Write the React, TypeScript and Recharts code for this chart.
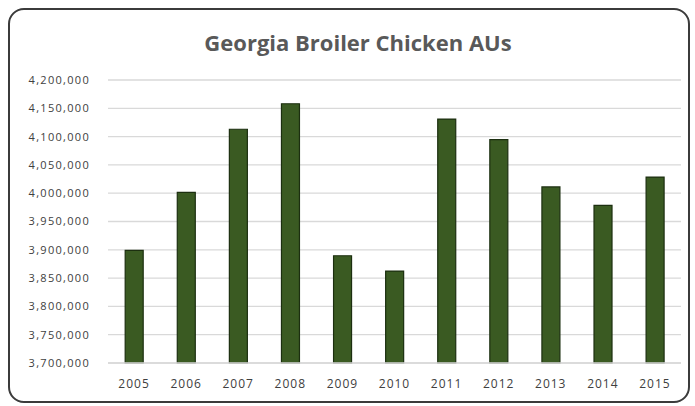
import React from "react";
import { BarChart, Bar, XAxis, YAxis, CartesianGrid } from "recharts";

const years = ["2005", "2006", "2007", "2008", "2009", "2010", "2011", "2012", "2013", "2014", "2015"];
const broilerAUs = [3899000, 4001500, 4113000, 4158000, 3889500, 3862500, 4131000, 4094500, 4011000, 3978500, 4028500];
const yTicks = [3700000, 3750000, 3800000, 3850000, 3900000, 3950000, 4000000, 4050000, 4100000, 4150000, 4200000];
const chartTitle = "Georgia Broiler Chicken AUs";

const data = years.map((year, i) => ({ year, value: broilerAUs[i] }));

const fmt = (v: number) => v.toLocaleString("en-US");

export default function App() {
  return (
    <div style={{ position: "absolute", left: 0, top: 0, width: 695, height: 406, background: "#fff" }}>
      <div
        style={{
          position: "absolute",
          left: 8,
          top: 8,
          width: 682,
          height: 395,
          boxSizing: "border-box",
          border: "2px solid #3b3b3b",
          borderRadius: 16,
        }}
      />
      <div
        style={{
          position: "absolute",
          left: 0,
          width: 716,
          top: 27,
          textAlign: "center",
          fontFamily: "'Open Sans', sans-serif",
          fontWeight: 700,
          fontSize: 22,
          color: "#595959",
          lineHeight: "30px",
        }}
      >
        {chartTitle}
      </div>
      <div style={{ position: "absolute", left: 0, top: 0 }}>
        <BarChart
          width={695}
          height={406}
          data={data}
          margin={{ top: 80, right: 14, bottom: 13, left: 0 }}
          barCategoryGap="33%"
        >
          <CartesianGrid vertical={false} stroke="#d9d9d9" strokeWidth={1.3} />
          <XAxis
            dataKey="year"
            height={30}
            axisLine={{ stroke: "#d9d9d9", strokeWidth: 1.3 }}
            tickLine={false}
            tickMargin={10}
            tick={{ fill: "#404040", fontSize: 12, fontFamily: "'Open Sans', sans-serif", letterSpacing: 1 }}
            interval={0}
          />
          <YAxis
            width={108}
            domain={[3700000, 4200000]}
            ticks={yTicks}
            interval={0}
            axisLine={false}
            tickLine={false}
            tickMargin={12}
            tickFormatter={fmt}
            tick={{ fill: "#404040", fontSize: 11, fontFamily: "'Open Sans', sans-serif", letterSpacing: 1.3 }}
          />
          <Bar dataKey="value" fill="#3a5a22" stroke="#1c2f10" strokeWidth={1.2} isAnimationActive={false} />
        </BarChart>
      </div>
    </div>
  );
}
